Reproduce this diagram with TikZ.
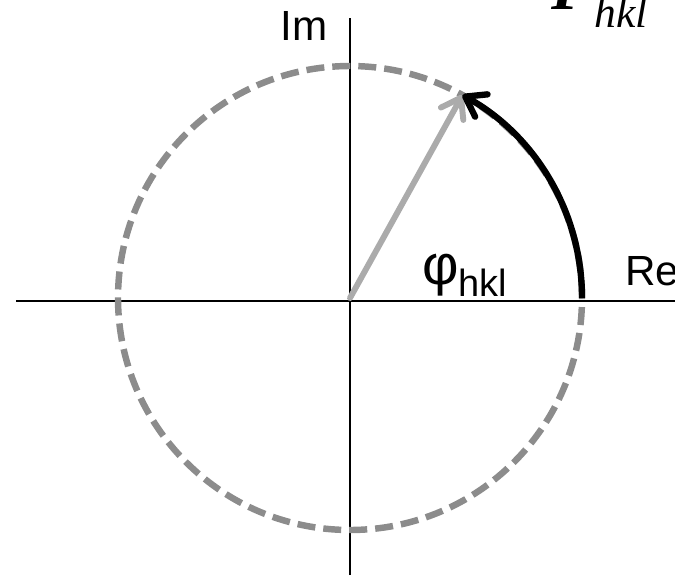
\documentclass[tikz,border=0pt]{standalone}
\usepackage{fontspec}
\setmainfont{Liberation Sans}
\newfontfamily\timesfont{Liberation Serif}
\usetikzlibrary{arrows.meta}

\begin{document}
\begin{tikzpicture}[
    % one unit is one pixel of the 675x575 frame
    x=0.025cm, y=0.025cm,
    axis/.style={draw=black, line width=1.4pt},
    ring/.style={draw=black!45, line width=4.6pt, dash pattern=on 12.8pt off 5.7pt},
    vector/.style={-{Straight Barb[length=4.6mm, width=6.4mm, round]}, draw=black!33, line width=4.2pt, line cap=round},
    phasearc/.style={-{Straight Barb[length=4.6mm, width=6.4mm, round]}, draw=black, line width=4.5pt},
    lbl/.style={inner sep=0pt, anchor=base west}
]
    \useasboundingbox (0,0) rectangle (675,575);

    \coordinate (o) at (350,277);
    \coordinate (xl) at (16,274);
    \coordinate (xr) at (675,274);
    \coordinate (yt) at (350,557);
    \coordinate (yb) at (350,0);
    \path (o) ++(0:232) coordinate (rim);
    \path (o) ++(61:232) coordinate (tip);

    \draw[axis] (xl) -- (xr);
    \draw[axis] (yb) -- (yt);
    \draw[ring] (o) circle (232);

    \draw[vector] (o) -- (tip);
    \draw[phasearc] (rim) arc[start angle=0, end angle=61, radius=232];

    \node[lbl] (im) at (280,535) {\fontsize{30}{30}\selectfont Im};
    \node[lbl] (re) at (625,290) {\fontsize{30}{30}\selectfont Re};
    \node[lbl] (phi) at (422,291) {\fontsize{40}{40}\selectfont φ\raisebox{-9.2pt}{\fontsize{27}{27}\selectfont hkl}};
    \node[lbl] (fhkl) at (551,565) {\timesfont\fontsize{46}{46}\selectfont\bfseries\itshape F\raisebox{-12.8pt}{\mdseries\fontsize{31}{31}\selectfont hkl}};
\end{tikzpicture}
\end{document}
